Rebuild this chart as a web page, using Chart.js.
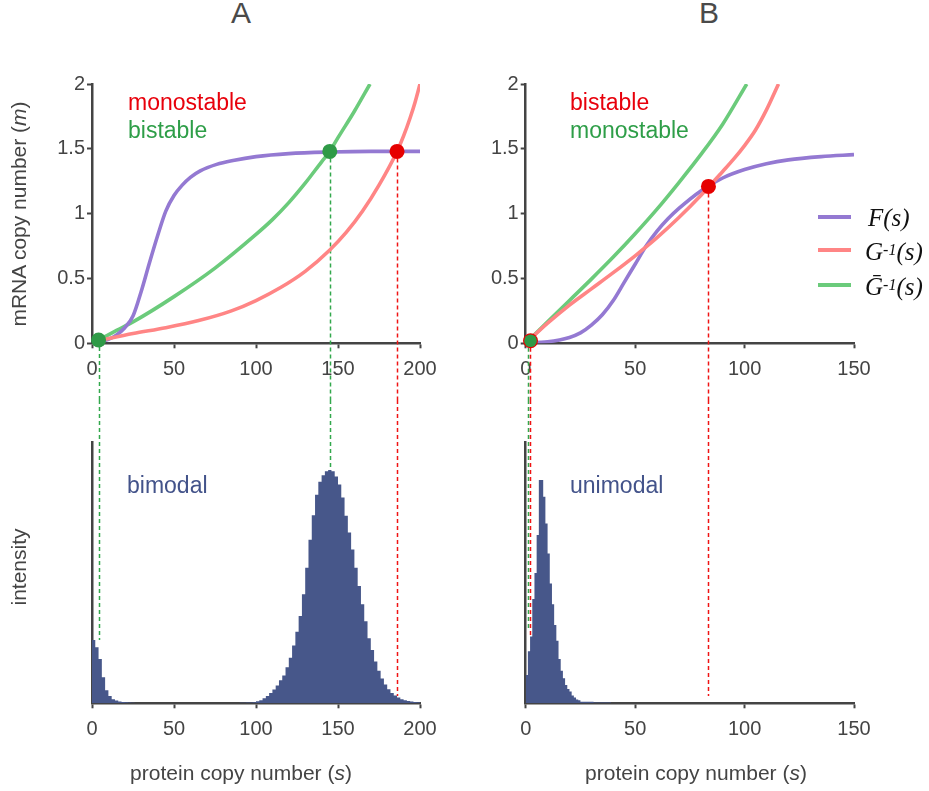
<!DOCTYPE html>
<html>
<head>
<meta charset="utf-8">
<script src="https://cdn.jsdelivr.net/npm/chart.js@4.4.1/dist/chart.umd.min.js"></script>
<style>
  html, body { margin: 0; padding: 0; background: #fff; }
  body { width: 929px; height: 791px; position: relative; overflow: hidden;
         font-family: "Liberation Sans", Arial, Helvetica, sans-serif; color: #444; }
  canvas { position: absolute; }
  .t { position: absolute; white-space: nowrap; }
  .lab { font-size: 23px; line-height: 23px; }
  .panel { font-size: 30px; line-height: 30px; color: #4a4a4a; transform: translateX(-50%); }
  .xt { font-size: 21px; line-height: 21px; transform: translateX(-50%); }
  .yt { font-size: 21px; line-height: 21px; transform: translate(-50%, -50%) rotate(-90deg); }
  .leg-line { position: absolute; width: 33px; height: 4px; }
  .leg-txt { position: absolute; white-space: nowrap; font-family: "Liberation Serif", "Times New Roman", serif;
             font-style: italic; font-size: 25px; line-height: 25px; color: #111; }
  .leg-txt sup { font-size: 16px; position: relative; top: -2px; vertical-align: top; }
</style>
</head>
<body>

<canvas id="curvesA" width="460" height="340" style="left:0px;top:60px"></canvas>
<canvas id="curvesB" width="469" height="340" style="left:460px;top:60px"></canvas>
<canvas id="histA" width="460" height="391" style="left:0px;top:400px"></canvas>
<canvas id="histB" width="469" height="391" style="left:460px;top:400px"></canvas>

<div class="t panel" style="left:241px;top:-2px">A</div>
<div class="t panel" style="left:709px;top:-2px">B</div>

<div class="t yt" style="left:18px;top:214px">mRNA copy number (<i>m</i>)</div>
<div class="t yt" style="left:18px;top:567px">intensity</div>
<div class="t xt" style="left:241px;top:762px">protein copy number (<i>s</i>)</div>
<div class="t xt" style="left:696px;top:762px">protein copy number (<i>s</i>)</div>

<div class="t lab" style="left:128px;top:90.5px;color:#e8000b">monostable</div>
<div class="t lab" style="left:128px;top:118.8px;color:#2e9e48">bistable</div>
<div class="t lab" style="left:570px;top:90.5px;color:#e8000b">bistable</div>
<div class="t lab" style="left:570px;top:118.8px;color:#2e9e48">monostable</div>
<div class="t lab" style="left:127px;top:474px;color:#43538a">bimodal</div>
<div class="t lab" style="left:570px;top:474px;color:#43538a">unimodal</div>

<div id="legend"></div>

<script>
// ---------------- panel A: nullclines (s, m) ----------------
const sA_F = [2, 10, 15, 20, 25, 30, 35, 40, 45, 50, 55, 60, 66, 76, 86, 100, 120, 145, 170, 200];
const mA_F = [0.003, 0.03, 0.065, 0.12, 0.21, 0.40, 0.62, 0.83, 1.02, 1.14, 1.22, 1.28, 1.33, 1.38, 1.41, 1.44, 1.463, 1.475, 1.48, 1.48];

const sA_G = [4, 25, 45, 65, 85, 100, 115, 130, 145, 155, 165, 175, 186, 190, 194, 197, 200];
const mA_G = [0.02, 0.075, 0.12, 0.175, 0.25, 0.33, 0.43, 0.555, 0.72, 0.855, 1.02, 1.22, 1.48, 1.6, 1.74, 1.86, 2.0];

const sA_Gbar = [4, 15, 25, 50, 75, 100, 110, 120, 130, 140, 145, 150, 160, 169.5];
const mA_Gbar = [0.025, 0.1, 0.165, 0.36, 0.58, 0.84, 0.954, 1.085, 1.235, 1.4, 1.48, 1.586, 1.79, 2.0];

// fixed points of panel A
const fixA_Gbar_s = [4, 145];
const fixA_Gbar_m = [0.025, 1.48];
const fixA_G_s = [186];
const fixA_G_m = [1.48];

// ---------------- panel B: nullclines (s, m) ----------------
const sB_F = [0, 10, 20, 25, 30, 35, 40, 45, 50, 55, 60, 65, 70, 80, 90, 100, 110, 120, 135, 150];
const mB_F = [0.005, 0.012, 0.045, 0.08, 0.14, 0.22, 0.33, 0.47, 0.61, 0.75, 0.865, 0.96, 1.04, 1.175, 1.275, 1.34, 1.385, 1.415, 1.44, 1.455];

const sB_G = [0, 10, 20, 30, 40, 50, 60, 70, 80, 90, 95, 100, 105, 110, 115.5];
const mB_G = [0, 0.155, 0.295, 0.42, 0.545, 0.675, 0.815, 0.97, 1.14, 1.325, 1.42, 1.525, 1.645, 1.8, 2.0];

const sB_Gbar = [0, 10, 20, 30, 40, 50, 60, 70, 80, 90, 101];
const mB_Gbar = [0, 0.165, 0.33, 0.495, 0.665, 0.845, 1.035, 1.24, 1.455, 1.69, 2.0];

// fixed points of panel B
const fixB_G_s = [2.2, 83.5];
const fixB_G_m = [0.02, 1.21];
const fixB_Gbar_s = [2.2];
const fixB_Gbar_m = [0.02];

// ---------------- histograms (protein copy number distribution) ----------------
// panel A: bins of width 2 starting at s = 0
const histA_binWidth = 2;
const histA = [
  0.243, 0.215, 0.17, 0.10, 0.05, 0.028, 0.016, 0.011, 0.007, 0.005,
  0.004, 0.003, 0.002, 0, 0, 0, 0, 0, 0, 0,
  0, 0, 0, 0, 0, 0, 0, 0, 0, 0,
  0, 0, 0, 0, 0, 0, 0, 0, 0, 0,
  0, 0, 0, 0, 0, 0.002, 0.002, 0.003, 0.003, 0.004,
  0.008, 0.012, 0.019, 0.028, 0.04, 0.053, 0.068, 0.088, 0.107, 0.138,
  0.175, 0.222, 0.275, 0.335, 0.418, 0.52, 0.628, 0.722, 0.8, 0.85,
  0.875, 0.89, 0.895, 0.89, 0.87, 0.84, 0.79, 0.72, 0.655, 0.59,
  0.52, 0.45, 0.38, 0.315, 0.25, 0.205, 0.16, 0.125, 0.095, 0.072,
  0.054, 0.04, 0.03, 0.022, 0.016, 0.012, 0.009, 0.007, 0.005, 0.004
];
// panel B: bins of width 1 starting at s = 0
const histB_binWidth = 1;
const histB = [
  0.109, 0.2, 0.256, 0.40, 0.50, 0.646, 0.857, 0.857, 0.793, 0.69,
  0.575, 0.46, 0.38, 0.30, 0.24, 0.17, 0.125, 0.096, 0.07, 0.055,
  0.045, 0.03, 0.022, 0.015, 0.012, 0.006, 0.006, 0.006, 0.006, 0.006,
  0.006, 0.003, 0.003, 0.003, 0.003, 0.003, 0.003, 0.003, 0.003, 0
];

// dashed guides linking fixed points to the distributions
const guideA_s = [4, 145, 186];
const guideA_m = [0.025, 1.48, 1.48];
const guideA_h = [0.243, 0.895, 0.028];
const guideA_curve = ['Gbar', 'Gbar', 'G'];

const guideB_s = [0.9, 2.1, 83.5];
const guideB_m = [0.02, 0.02, 1.21];
const guideB_h = [0.28, 0.256, 0.028];
const guideB_curve = ['Gbar', 'G', 'G'];

// axis ticks
const xTicksA = [0, 50, 100, 150, 200];
const xTicksB = [0, 50, 100, 150];
const yTicksM = [0, 0.5, 1, 1.5, 2];

// legend entries
const legendKeys = ['F', 'G', 'Gbar'];
const legendHtml = ['F(s)', 'G<sup>-1</sup>(s)', 'Ḡ<sup>-1</sup>(s)'];

// ---------------- styles ----------------
const FONT = "'Liberation Sans', Arial, Helvetica, sans-serif";
const AXIS = '#444444';
const COL = { F: '#9479d2', G: '#ff8585', Gbar: '#6bcb7b' };
const PT = { G: '#e60000', Gbar: '#2f9a47' };
const DASH = { G: '#f01414', Gbar: '#33a84c' };
const HIST = '#47578a';

const pts = (xs, ys) => xs.map((x, i) => ({ x, y: ys[i] }));
const histPts = (vals, w) => {
  const p = vals.map((v, i) => ({ x: i * w, y: v }));
  p.push({ x: vals.length * w, y: vals[vals.length - 1] });
  return p;
};

function curve(xs, ys, key, order) {
  return { data: pts(xs, ys), borderColor: COL[key], borderWidth: 3.6, pointRadius: 0,
           cubicInterpolationMode: 'monotone', fill: false, order };
}
function dots(xs, ys, key, r, order) {
  return { data: pts(xs, ys), showLine: false, pointRadius: r, pointBackgroundColor: PT[key],
           pointBorderWidth: 0, clip: false, order };
}

const guidePlugin = {
  id: 'guides',
  beforeDatasetsDraw(chart, args, opts) {
    const { ctx } = chart;
    const x = chart.scales.x, y = chart.scales.y;
    ctx.save();
    ctx.lineWidth = 1.5;
    ctx.setLineDash([4, 3]);
    opts.s.forEach((s, i) => {
      const px = Math.round(x.getPixelForValue(s)) + 0.5;
      let y0, y1;
      if (opts.mode === 'top') { y0 = y.getPixelForValue(opts.m[i]); y1 = chart.height; }
      else { y0 = 0; y1 = y.getPixelForValue(opts.h[i]); }
      ctx.strokeStyle = DASH[opts.curve[i]];
      ctx.beginPath();
      ctx.moveTo(px, y0);
      ctx.lineTo(px, y1);
      ctx.stroke();
    });
    ctx.restore();
  }
};

function xScale(max, ticks, height) {
  return {
    type: 'linear', min: 0, max,
    afterBuildTicks: sc => { sc.ticks = ticks.map(v => ({ value: v })); },
    ticks: { color: AXIS, font: { family: FONT, size: 20 }, padding: 9, maxRotation: 0 },
    grid: { display: true, drawOnChartArea: false, drawTicks: true, tickLength: 5, tickWidth: 2, tickColor: AXIS },
    border: { display: true, color: AXIS, width: 2.5 },
    afterFit: sc => { sc.height = height; }
  };
}

function curvesChart(id, width, right, xMax, xTicks, datasets, guides) {
  return new Chart(document.getElementById(id), {
    type: 'line',
    data: { datasets },
    options: {
      responsive: false, animation: false, devicePixelRatio: 1, events: [],
      layout: { padding: { top: 24, left: 0, right, bottom: 0 } },
      plugins: { legend: { display: false }, tooltip: { enabled: false }, guides },
      scales: {
        x: xScale(xMax, xTicks, 56.7),
        y: {
          type: 'linear', min: 0, max: 2,
          afterBuildTicks: sc => { sc.ticks = yTicksM.map(v => ({ value: v })); },
          ticks: { color: AXIS, font: { family: FONT, size: 20 }, padding: 2, callback: v => String(v) },
          grid: { display: true, drawOnChartArea: false, drawTicks: true, tickLength: 5, tickWidth: 2, tickColor: AXIS },
          border: { display: true, color: AXIS, width: 2.5 },
          afterFit: sc => { sc.width = width; }
        }
      }
    },
    plugins: [guidePlugin]
  });
}

function histChart(id, width, right, xMax, xTicks, values, binW, guides) {
  return new Chart(document.getElementById(id), {
    type: 'line',
    data: { datasets: [{ data: histPts(values, binW), stepped: true, borderWidth: 0, pointRadius: 0,
                         fill: 'origin', backgroundColor: HIST, borderColor: HIST }] },
    options: {
      responsive: false, animation: false, devicePixelRatio: 1, events: [],
      layout: { padding: { top: 42.7, left: 0, right, bottom: 0 } },
      plugins: { legend: { display: false }, tooltip: { enabled: false }, guides },
      scales: {
        x: xScale(xMax, xTicks, 87.7),
        y: {
          type: 'linear', min: 0, max: 1,
          ticks: { display: false },
          grid: { display: false },
          border: { display: true, color: AXIS, width: 2.5 },
          afterFit: sc => { sc.width = width; }
        }
      }
    },
    plugins: [guidePlugin]
  });
}

curvesChart('curvesA', 92, 40, 200, xTicksA, [
  dots(fixA_Gbar_s, fixA_Gbar_m, 'Gbar', 7.5, 0),
  dots(fixA_G_s, fixA_G_m, 'G', 7.5, 0),
  curve(sA_G, mA_G, 'G', 1),
  curve(sA_F, mA_F, 'F', 2),
  curve(sA_Gbar, mA_Gbar, 'Gbar', 3)
], { mode: 'top', s: guideA_s, m: guideA_m, curve: guideA_curve });

curvesChart('curvesB', 65.7, 75, 150, xTicksB, [
  dots(fixB_Gbar_s, fixB_Gbar_m, 'Gbar', 6.3, -1),
  dots(fixB_G_s, fixB_G_m, 'G', 7.5, 0),
  curve(sB_G, mB_G, 'G', 1),
  curve(sB_F, mB_F, 'F', 2),
  curve(sB_Gbar, mB_Gbar, 'Gbar', 3)
], { mode: 'top', s: guideB_s, m: guideB_m, curve: guideB_curve });

histChart('histA', 92, 40, 200, xTicksA, histA, histA_binWidth,
  { mode: 'bottom', s: guideA_s, h: guideA_h, curve: guideA_curve });
histChart('histB', 65.7, 75, 150, xTicksB, histB, histB_binWidth,
  { mode: 'bottom', s: guideB_s, h: guideB_h, curve: guideB_curve });

// legend for panel B
const legendRowY = [216.7, 250, 285];
const legendTxtLeft = [868, 865, 865];
const leg = document.getElementById('legend');
legendKeys.forEach((k, i) => {
  const line = document.createElement('div');
  line.className = 'leg-line';
  line.style.left = '818px';
  line.style.top = (legendRowY[i] - 2) + 'px';
  line.style.background = COL[k];
  leg.appendChild(line);
  const txt = document.createElement('div');
  txt.className = 'leg-txt';
  txt.style.left = legendTxtLeft[i] + 'px';
  txt.style.top = (legendRowY[i] - 11.5) + 'px';
  txt.innerHTML = legendHtml[i];
  leg.appendChild(txt);
});
</script>
</body>
</html>
